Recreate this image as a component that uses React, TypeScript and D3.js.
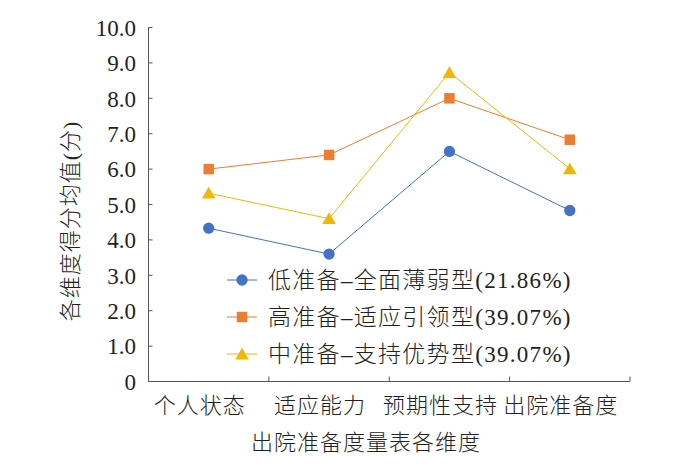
import React, {useEffect, useRef} from 'react';
import * as d3 from 'd3';

// categories on the x axis
const dimensions = ['个人状态', '适应能力', '预期性支持', '出院准备度'];
// mean scores per latent profile
const lowWeak = [4.33, 3.6, 6.5, 4.83];
const highAdapt = [6.0, 6.4, 8.0, 6.83];
const midSupport = [5.32, 4.6, 8.73, 6.01];
const seriesNames = [
  '低准备–全面薄弱型(21.86%)',
  '高准备–适应引领型(39.07%)',
  '中准备–支持优势型(39.07%)',
];
const yTicks = [0, 1, 2, 3, 4, 5, 6, 7, 8, 9, 10];

const fontStack = '"Liberation Serif", "Noto Sans CJK SC", serif';

const App = () => {
  const ref = useRef<SVGSVGElement>(null);

  useEffect(() => {
    const svg = d3.select(ref.current);
    svg.selectAll('*').remove();

    const left = 148.5, right = 630, top = 27.5, bottom = 381.5;
    const textColor = '#231f20';

    const x = d3.scaleBand<string>().domain(dimensions).range([left, right]);
    const y = d3.scaleLinear().domain([0, 10]).range([bottom, top]);

    const series = [
      {name: seriesNames[0], values: lowWeak, color: '#4472C4', shape: d3.symbolCircle},
      {name: seriesNames[1], values: highAdapt, color: '#ED7D31', shape: d3.symbolSquare},
      {name: seriesNames[2], values: midSupport, color: '#F2B705', shape: d3.symbolTriangle},
    ];

    // axes
    const axisColor = '#555';
    svg.append('line')
      .attr('x1', left).attr('x2', left).attr('y1', top).attr('y2', bottom)
      .attr('stroke', axisColor).attr('stroke-width', 1);
    svg.append('line')
      .attr('x1', left).attr('x2', right).attr('y1', bottom).attr('y2', bottom)
      .attr('stroke', axisColor).attr('stroke-width', 1);

    svg.selectAll('.ytick')
      .data(yTicks)
      .enter().append('line')
      .attr('x1', left).attr('x2', left + 4)
      .attr('y1', d => y(d)).attr('y2', d => y(d))
      .attr('stroke', axisColor);

    svg.selectAll('.ylabel')
      .data(yTicks)
      .enter().append('text')
      .attr('x', 136)
      .attr('y', d => y(d))
      .attr('dy', '0.36em')
      .attr('text-anchor', 'end')
      .attr('font-family', fontStack)
      .attr('font-size', 23)
      .attr('fill', textColor)
      .text(d => (d === 0 ? '0' : d.toFixed(1)));

    const boundaries = dimensions.map(d => x(d)! + x.bandwidth()).concat([left]);
    svg.selectAll('.xtick')
      .data(boundaries)
      .enter().append('line')
      .attr('x1', d => d).attr('x2', d => d)
      .attr('y1', bottom).attr('y2', bottom - 5)
      .attr('stroke', axisColor);

    svg.selectAll('.xlabel')
      .data(dimensions)
      .enter().append('text')
      .attr('x', d => x(d)! + x.bandwidth() / 2 - 9)
      .attr('y', 413)
      .attr('text-anchor', 'middle')
      .attr('font-family', fontStack)
      .attr('font-size', 22)
      .attr('font-weight', 300)
      .attr('letter-spacing', 1)
      .attr('fill', textColor)
      .text(d => d);

    svg.append('text')
      .attr('x', 366)
      .attr('y', 450)
      .attr('text-anchor', 'middle')
      .attr('font-family', fontStack)
      .attr('font-size', 22)
      .attr('font-weight', 300)
      .attr('letter-spacing', 1)
      .attr('fill', textColor)
      .text('出院准备度量表各维度');

    svg.append('text')
      .attr('transform', 'translate(78,221) rotate(-90)')
      .attr('text-anchor', 'middle')
      .attr('font-family', fontStack)
      .attr('font-size', 22)
      .attr('font-weight', 300)
      .attr('letter-spacing', 1)
      .attr('fill', textColor)
      .text('各维度得分均值(分)');

    const line = d3.line<number>()
      .x((_, i) => x(dimensions[i])! + x.bandwidth() / 2)
      .y(d => y(d));

    const symbolSize = (shape: d3.SymbolType) =>
      shape === d3.symbolTriangle ? 80 : shape === d3.symbolSquare ? 110 : 100;

    series.forEach(s => {
      svg.append('path')
        .datum(s.values)
        .attr('d', line)
        .attr('fill', 'none')
        .attr('stroke', s.color)
        .attr('stroke-width', 1);

      svg.selectAll(null)
        .data(s.values)
        .enter().append('path')
        .attr('transform', (d, i) => {
          const dy = s.shape === d3.symbolTriangle ? 1.5 : 0;
          return `translate(${x(dimensions[i])! + x.bandwidth() / 2},${y(d) + dy})`;
        })
        .attr('d', d3.symbol().type(s.shape).size(symbolSize(s.shape))())
        .attr('fill', s.color);
    });

    // legend
    const legend = svg.append('g');
    series.forEach((s, i) => {
      const ly = 280 + i * 37;
      legend.append('line')
        .attr('x1', 227).attr('x2', 257).attr('y1', ly).attr('y2', ly)
        .attr('stroke', s.color).attr('stroke-width', 1);
      legend.append('path')
        .attr('transform', `translate(242,${ly + (s.shape === d3.symbolTriangle ? 1.5 : 0)})`)
        .attr('d', d3.symbol().type(s.shape).size(symbolSize(s.shape))())
        .attr('fill', s.color);
      legend.append('text')
        .attr('x', 268)
        .attr('y', ly)
        .attr('dy', '0.36em')
        .attr('font-family', fontStack)
        .attr('font-size', 23)
        .attr('font-weight', 300)
        .attr('letter-spacing', 1.3)
        .attr('fill', textColor)
        .text(s.name);
    });
  }, []);

  return (
    <svg
      ref={ref}
      width={687}
      height={469}
      style={{position: 'absolute', left: 0, top: 0, background: '#fff'}}
    />
  );
};

export default App;
